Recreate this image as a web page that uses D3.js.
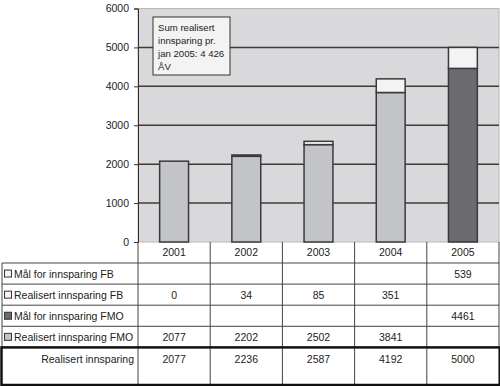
<html>
<head>
<script src="https://cdnjs.cloudflare.com/ajax/libs/d3/7.8.5/d3.min.js"></script>
<style>
  body{margin:0;background:#fff;}
  svg text{font-family:"Liberation Sans",Arial,sans-serif;fill:#222;}
</style>
</head>
<body>
<div id="chart"></div>
<script>
// data
let years=["2001","2002","2003","2004","2005"];
let realisertFMO=[2077,2202,2502,3841,null];
let malFMO=[null,null,null,null,4461];
let realisertFB=[0,34,85,351,null];
let malFB=[null,null,null,null,539];
let totals=[2077,2236,2587,4192,5000];
let yTicks=[0,1000,2000,3000,4000,5000,6000];
let noteLines=["Sum realisert","innsparing pr.","jan 2005: 4 426","ÅV"];

let series=[
  {name:"Mål for innsparing FB",values:malFB,color:"#f2f3f2"},
  {name:"Realisert innsparing FB",values:realisertFB,color:"#f2f3f2"},
  {name:"Mål for innsparing FMO",values:malFMO,color:"#6b6a6e"},
  {name:"Realisert innsparing FMO",values:realisertFMO,color:"#c3c4c8"}
];

let W=500,H=386;
let plot={left:138,right:499,top:8.5,bottom:242};
let fs='10.5px';

let svg=d3.select('#chart').append('svg')
  .attr('width',W).attr('height',H);

let x=d3.scaleBand().domain(years).range([plot.left,plot.right]).paddingInner(0).paddingOuter(0);
let y=d3.scaleLinear().domain([0,6000]).range([plot.bottom,plot.top]);

// plot background
svg.append('rect')
  .attr('x',plot.left).attr('y',plot.top)
  .attr('width',plot.right-plot.left).attr('height',plot.bottom-plot.top)
  .attr('fill','#d9d9db').attr('stroke','#b8b8b8').attr('stroke-width',1);

// gridlines
svg.append('g').selectAll('line')
  .data(yTicks.filter(d=>d>0&&d<6000))
  .enter().append('line')
  .attr('x1',plot.left).attr('x2',plot.right)
  .attr('y1',d=>y(d)).attr('y2',d=>y(d))
  .attr('stroke','#3c3c3c').attr('stroke-width',1.5);

// y axis
let yAxis=d3.axisLeft(y).tickValues(yTicks).tickFormat(d3.format('d')).tickSize(4).tickPadding(5);
let ya=svg.append('g').attr('transform','translate('+plot.left+',0)').call(yAxis);
ya.select('.domain').attr('stroke','#333');
ya.selectAll('.tick line').attr('stroke','#333');
ya.selectAll('.tick text').attr('font-size',fs).attr('fill','#222');

// stacked bars (bottom to top: FMO then FB)
let stackOrder=[series[3],series[2],series[1],series[0]];
let barW=x.bandwidth()*0.4;
years.forEach((yr,i)=>{
  let base=0;
  stackOrder.forEach(s=>{
    let v=s.values[i];
    if(v==null||v===0) return;
    svg.append('rect')
      .attr('x',x(yr)+(x.bandwidth()-barW)/2)
      .attr('y',y(base+v))
      .attr('width',barW)
      .attr('height',y(base)-y(base+v))
      .attr('fill',s.color)
      .attr('stroke','#3a3a3a').attr('stroke-width',1.5);
    base+=v;
  });
});

// note box
let note=svg.append('g');
note.append('rect').attr('x',153).attr('y',17).attr('width',77).attr('height',58)
  .attr('fill','#f3f3f3').attr('stroke','#333').attr('stroke-width',1);
note.selectAll('text').data(noteLines).enter().append('text')
  .attr('x',158).attr('y',(d,i)=>30.5+i*13)
  .attr('font-size','9.6px')
  .text(d=>d);

// table
let rowTop=263,rowH=21.1;
let tableLeft=2;
let lineColor='#444';
let tbl=svg.append('g');

// header years
tbl.selectAll('.yr').data(years).enter().append('text')
  .attr('x',d=>x(d)+x.bandwidth()/2).attr('y',256)
  .attr('text-anchor','middle').attr('font-size',fs)
  .text(d=>d);

// horizontal lines
let hLines=[0,1,2,3].map(i=>rowTop+i*rowH);
tbl.selectAll('.hl').data(hLines).enter().append('line')
  .attr('x1',tableLeft).attr('x2',plot.right)
  .attr('y1',d=>d).attr('y2',d=>d)
  .attr('stroke',lineColor).attr('stroke-width',1);

let totalTop=rowTop+4*rowH;
// vertical lines
tbl.selectAll('.vl').data(years.map(d=>x(d)).concat([plot.right])).enter().append('line')
  .attr('x1',d=>d).attr('x2',d=>d)
  .attr('y1',plot.bottom).attr('y2',385)
  .attr('stroke',lineColor).attr('stroke-width',1);
tbl.append('line').attr('x1',tableLeft).attr('x2',tableLeft)
  .attr('y1',rowTop).attr('y2',totalTop).attr('stroke',lineColor);

// legend rows
series.forEach((s,r)=>{
  let cy=rowTop+r*rowH+rowH/2;
  tbl.append('rect').attr('x',4.5).attr('y',cy-3.5).attr('width',7).attr('height',7)
    .attr('fill',s.color).attr('stroke','#333').attr('stroke-width',1);
  tbl.append('text').attr('x',14).attr('y',cy+4).attr('font-size',fs).text(s.name);
  tbl.selectAll(null).data(s.values.map((v,i)=>({v:v,yr:years[i]})).filter(d=>d.v!=null))
    .enter().append('text')
    .attr('x',d=>x(d.yr)+x.bandwidth()/2).attr('y',cy+4)
    .attr('text-anchor','middle').attr('font-size',fs)
    .text(d=>d.v);
});

// total row
tbl.append('text').attr('x',134).attr('y',totalTop+16).attr('text-anchor','end')
  .attr('font-size',fs).text('Realisert innsparing');
tbl.selectAll('.tot').data(totals).enter().append('text')
  .attr('x',(d,i)=>x(years[i])+x.bandwidth()/2).attr('y',totalTop+16)
  .attr('text-anchor','middle').attr('font-size',fs)
  .text(d=>d);
tbl.append('rect').attr('x',1.5).attr('y',totalTop).attr('width',plot.right-0.5).attr('height',385-totalTop)
  .attr('fill','none').attr('stroke','#111').attr('stroke-width',2.5);
</script>
</body>
</html>
